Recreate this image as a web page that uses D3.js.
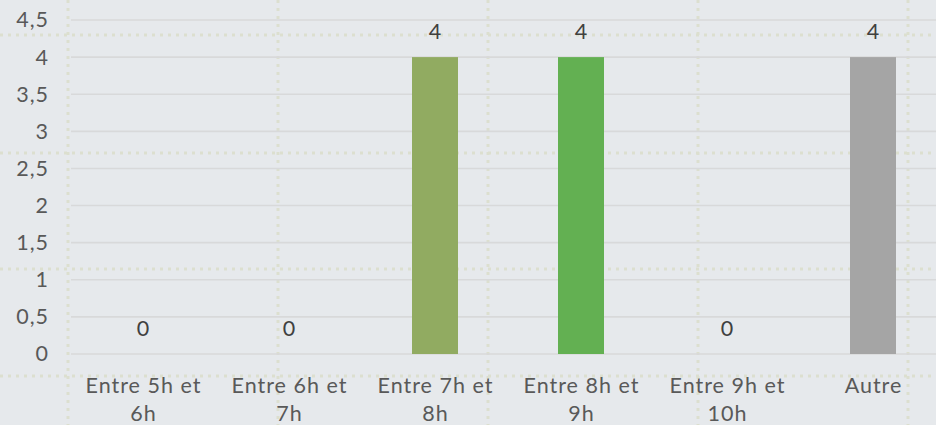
<!DOCTYPE html>
<html>
<head>
<meta charset="utf-8">
<script src="https://cdn.jsdelivr.net/npm/d3@7"></script>
<style>
  html, body { margin: 0; padding: 0; background: #e6e9ec; }
  svg { display: block; font-family: Lato, "Noto Sans", sans-serif; }
  .lbl { font-size: 21.5px; letter-spacing: 1px; }
</style>
</head>
<body>
<svg id="chart" width="936" height="425"></svg>
<script>
// Données
const categories = ['Entre 5h et 6h', 'Entre 6h et 7h', 'Entre 7h et 8h', 'Entre 8h et 9h', 'Entre 9h et 10h', 'Autre'];
const values = [0, 0, 4, 4, 0, 4];
const barColors = ['#8faa60', '#8faa60', '#91ab61', '#63b052', '#a5a5a5', '#a5a5a5'];
const yTicks = [0, 0.5, 1, 1.5, 2, 2.5, 3, 3.5, 4, 4.5];

const W = 936, H = 425;
const svg = d3.select('#chart');

// fond : grille pointillée décorative
const deco = svg.append('g');
[68, 278, 488, 698, 908].forEach(x => {
  deco.append('line').attr('x1', x).attr('x2', x).attr('y1', 0).attr('y2', H)
    .attr('stroke', '#dcdfcf').attr('stroke-width', 3).attr('stroke-dasharray', '3 5');
});
[35, 153, 269, 376].forEach(y => {
  deco.append('line').attr('x1', 0).attr('x2', W).attr('y1', y).attr('y2', y)
    .attr('stroke', '#dcdfcf').attr('stroke-width', 3).attr('stroke-dasharray', '3 5');
});

// échelles
const x = d3.scaleBand().domain(categories).range([70, 946]).padding(0);
const y = d3.scaleLinear().domain([0, 4.5]).range([354, 20]);
const fr = d3.formatLocale({ decimal: ',', thousands: ' ', grouping: [3], currency: ['', '€'] });
const fmt = v => fr.format('~g')(v);
const BAR_W = 46;

// grille horizontale
svg.append('g').selectAll('line').data(yTicks).join('line')
  .attr('x1', 71).attr('x2', W)
  .attr('y1', d => y(d)).attr('y2', d => y(d))
  .attr('stroke', '#d8d9da').attr('stroke-width', 1.6);

// axe Y
const yAxis = svg.append('g').attr('transform', 'translate(49,0)')
  .call(d3.axisLeft(y).tickValues(yTicks).tickFormat(fmt).tickSize(0).tickPadding(0));
yAxis.select('.domain').remove();
yAxis.selectAll('text').attr('class', 'lbl').attr('fill', '#595959')
  .style('font-family', 'Lato, "Noto Sans", sans-serif');

// barres
svg.append('g').selectAll('rect').data(values).join('rect')
  .attr('x', (d, i) => x(categories[i]) + x.bandwidth() / 2 - BAR_W / 2)
  .attr('width', BAR_W)
  .attr('y', d => y(d))
  .attr('height', d => y(0) - y(d))
  .attr('fill', (d, i) => barColors[i]);

// étiquettes de valeurs
svg.append('g').selectAll('text').data(values).join('text')
  .attr('class', 'lbl')
  .attr('x', (d, i) => x(categories[i]) + x.bandwidth() / 2 + 0.5)
  .attr('y', d => y(d) - 18)
  .attr('text-anchor', 'middle')
  .attr('fill', '#404040')
  .text(d => fmt(d));

// étiquettes catégories (retour à la ligne)
const xl = svg.append('g');
categories.forEach(c => {
  const cx = x(c) + x.bandwidth() / 2 + 0.5;
  const t = xl.append('text').attr('class', 'lbl').attr('text-anchor', 'middle')
    .attr('fill', '#595959');
  const words = c.split(' ');
  let lines = [], cur = [];
  const probe = xl.append('text').attr('class', 'lbl');
  words.forEach(w => {
    const test = cur.concat([w]).join(' ');
    probe.text(test);
    if (cur.length && probe.node().getComputedTextLength() > 135) {
      lines.push(cur.join(' ')); cur = [w];
    } else cur.push(w);
  });
  lines.push(cur.join(' '));
  probe.remove();
  lines.forEach((l, i) => {
    t.append('tspan').attr('x', cx).attr('y', 393 + i * 28).text(l);
  });
});
</script>
</body>
</html>
